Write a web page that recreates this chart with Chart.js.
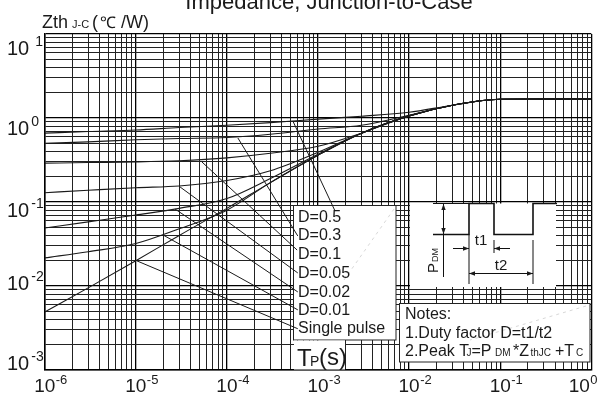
<!DOCTYPE html>
<html>
<head>
<meta charset="utf-8">
<script src="https://cdn.jsdelivr.net/npm/chart.js@4.4.1/dist/chart.umd.min.js"></script>
<style>
  html, body { margin: 0; padding: 0; background: #fff; }
  canvas { display: block; }
</style>
</head>
<body>
<canvas id="chart" width="598" height="397"></canvas>
<script>
// Transient thermal impedance, junction-to-case (log-log)

const tpSeconds = [1e-6, 3e-6, 1e-5, 3e-5, 1e-4, 3e-4, 1e-3, 3e-3, 1e-2, 3e-2, 1e-1, 1];
const zthD05    = [0.66, 0.69, 0.72, 0.77, 0.82, 0.88, 0.97, 1.05, 1.17, 1.42, 1.67, 1.69];
const zthD03    = [0.50, 0.52, 0.55, 0.57, 0.585, 0.64, 0.74, 0.82, 1.08, 1.42, 1.67, 1.69];
const zthD01    = [0.29, 0.295, 0.30, 0.31, 0.335, 0.38, 0.46, 0.66, 1.06, 1.42, 1.67, 1.69];
const zthD005   = [0.129, 0.138, 0.148, 0.155, 0.18, 0.235, 0.39, 0.66, 1.06, 1.42, 1.67, 1.69];
const zthD002   = [0.049, 0.058, 0.07, 0.084, 0.11, 0.19, 0.37, 0.66, 1.06, 1.42, 1.67, 1.69];
const zthD001   = [0.0216, 0.0256, 0.032, 0.048, 0.08, 0.17, 0.36, 0.66, 1.06, 1.42, 1.67, 1.69];
const zthSingle = [0.0049, 0.0095, 0.020, 0.040, 0.084, 0.17, 0.36, 0.66, 1.06, 1.42, 1.67, 1.69];

const curveLabels = ["D=0.5", "D=0.3", "D=0.1", "D=0.05", "D=0.02", "D=0.01", "Single pulse"];

// leader lines: [tp, zth] point on the curve -> point at its label
const leaderD05    = [[5.3e-4, 0.92], [1.54e-3, 0.078]];
const leaderD03    = [[1.32e-4, 0.578], [6.0e-4, 0.0394]];
const leaderD01    = [[5.33e-5, 0.299], [5.9e-4, 0.0268]];
const leaderD005   = [[3.06e-5, 0.151], [6.0e-4, 0.0143]];
const leaderD002   = [[2.69e-5, 0.0826], [6.0e-4, 0.0085]];
const leaderD001   = [[1.99e-5, 0.0405], [6.0e-4, 0.0052]];
const leaderSingle = [[1.03e-5, 0.0199], [6.0e-4, 0.0031]];

const xTickExps = [-6, -5, -4, -3, -2, -1, 0];
const yTickExps = [-3, -2, -1, 0, 1];

const FONT = '"Liberation Sans", Arial, sans-serif';
const NARROW = '"Liberation Sans Narrow", "Liberation Sans", Arial, sans-serif';
const INK = "#1a1a1a";

function isDecade(v) {
  if (!v) return false;
  const l = Math.log10(v);
  return Math.abs(l - Math.round(l)) < 1e-6;
}

function logGridTicks(exps) {
  const out = [];
  for (let i = 0; i < exps.length - 1; i++) {
    for (let m = 1; m < 10; m++) out.push({ value: m * Math.pow(10, exps[i]) });
  }
  out.push({ value: Math.pow(10, exps[exps.length - 1]) });
  return out;
}

function curve(values) {
  return tpSeconds.map((t, i) => ({ x: t, y: values[i] }));
}
function leader(pts) {
  return pts.map((p) => ({ x: p[0], y: p[1] }));
}

const curveSets = [zthD05, zthD03, zthD01, zthD005, zthD002, zthD001, zthSingle];
const leaderSets = [leaderD05, leaderD03, leaderD01, leaderD005, leaderD002, leaderD001, leaderSingle];

const datasets = [];
curveSets.forEach((vals, i) => {
  datasets.push({
    label: curveLabels[i],
    data: curve(vals),
    borderColor: INK,
    borderWidth: 1.1,
    pointRadius: 0,
    cubicInterpolationMode: "monotone",
    fill: false,
  });
});
leaderSets.forEach((pts, i) => {
  datasets.push({
    label: curveLabels[i] + " leader",
    data: leader(pts),
    borderColor: INK,
    borderWidth: 1,
    pointRadius: 0,
    tension: 0,
    fill: false,
  });
});

function arrowHead(ctx, x, y, dir) {
  const L = 6, W = 2.2;
  ctx.beginPath();
  ctx.moveTo(x, y);
  if (dir === "up") { ctx.lineTo(x - W, y + L); ctx.lineTo(x + W, y + L); }
  if (dir === "down") { ctx.lineTo(x - W, y - L); ctx.lineTo(x + W, y - L); }
  if (dir === "left") { ctx.lineTo(x + L, y - W); ctx.lineTo(x + L, y + W); }
  if (dir === "right") { ctx.lineTo(x - L, y - W); ctx.lineTo(x - L, y + W); }
  ctx.closePath();
  ctx.fill();
}

function line(ctx, x1, y1, x2, y2) {
  ctx.beginPath();
  ctx.moveTo(x1, y1);
  ctx.lineTo(x2, y2);
  ctx.stroke();
}

const panels = {
  id: "panels",
  beforeDatasetsDraw(chart) {
    const ctx = chart.ctx;
    ctx.save();
    ctx.fillStyle = "#fff";
    ctx.strokeStyle = "#222";
    ctx.lineWidth = 1;
    // legend panel
    ctx.fillRect(293.5, 205.5, 102.5, 134.5);
    ctx.strokeRect(293.5, 205.5, 102.5, 134.5);
    // axis title patch
    ctx.fillRect(294, 340.5, 51, 29);
    // pulse sketch panel
    ctx.fillRect(410, 203.5, 146, 83.5);
    // notes panel
    ctx.fillRect(399.5, 303.5, 190.5, 58.5);
    ctx.strokeRect(399.5, 303.5, 190.5, 58.5);
    // faint scan marks seen in the panels
    ctx.strokeStyle = "#d8d8d8";
    ctx.setLineDash([3, 4]);
    line(ctx, 394, 209, 344, 280);
    line(ctx, 586, 306, 470, 340);
    ctx.setLineDash([]);
    ctx.restore();
  },
  afterDatasetsDraw(chart) {
    const ctx = chart.ctx;
    ctx.save();
    ctx.fillStyle = INK;
    ctx.textBaseline = "alphabetic";
    ctx.textAlign = "left";

    // curve labels
    ctx.font = "16px " + NARROW;
    const labelBase = [221.5, 240, 259, 278, 296.5, 315, 333];
    curveLabels.forEach((t, i) => ctx.fillText(t, 298, labelBase[i]));

    // x axis title T_P(s)
    ctx.font = "24px " + NARROW;
    ctx.fillText("T", 297, 366);
    ctx.font = "14px " + NARROW;
    ctx.fillText("P", 310, 366);
    ctx.font = "24px " + NARROW;
    ctx.fillText("(s)", 319, 365);

    // notes
    ctx.font = "16px " + NARROW;
    ctx.fillText("Notes:", 405, 318.5);
    ctx.fillText("1.Duty factor D=t1/t2", 405, 337.5);
    const nb = 355.5;
    const big = "16px " + NARROW, small = "10px " + NARROW;
    [["2.Peak T", 405, big], ["J", 466.5, small], ["=P", 471.5, big], ["DM", 495, small],
     ["*Z", 513, big], ["thJC", 530.5, small], ["+T", 555, big], ["C", 576, small]]
      .forEach(([t, x, f]) => { ctx.font = f; ctx.fillText(t, x, nb); });

    // pulse sketch
    ctx.strokeStyle = "#111";
    ctx.lineWidth = 1.6;
    ctx.beginPath();
    ctx.moveTo(433, 234.5);
    ctx.lineTo(469, 234.5);
    ctx.lineTo(469, 203.5);
    ctx.lineTo(494, 203.5);
    ctx.lineTo(494, 234.5);
    ctx.lineTo(533, 234.5);
    ctx.lineTo(533, 203.5);
    ctx.lineTo(557, 203.5);
    ctx.stroke();
    ctx.lineWidth = 1;
    line(ctx, 433, 203.5, 469, 203.5);
    line(ctx, 469, 234.5, 469, 284);
    line(ctx, 494, 240, 494, 253);
    line(ctx, 533, 240, 533, 284);
    // P_DM arrow
    line(ctx, 443.5, 204, 443.5, 277);
    arrowHead(ctx, 443.5, 204, "up");
    arrowHead(ctx, 443.5, 234, "down");
    // t1 arrows
    line(ctx, 453, 248.5, 469, 248.5);
    arrowHead(ctx, 469, 248.5, "right");
    line(ctx, 494, 248.5, 510, 248.5);
    arrowHead(ctx, 494, 248.5, "left");
    // t2 arrow
    line(ctx, 469, 273.5, 533, 273.5);
    arrowHead(ctx, 469, 273.5, "left");
    arrowHead(ctx, 533, 273.5, "right");
    ctx.font = "15px " + NARROW;
    ctx.textAlign = "center";
    ctx.fillText("t1", 481, 245);
    ctx.fillText("t2", 501, 270);
    // rotated P_DM
    ctx.save();
    ctx.translate(438, 273);
    ctx.rotate(-Math.PI / 2);
    ctx.textAlign = "left";
    ctx.font = "15px " + NARROW;
    ctx.fillText("P", 0, 0);
    ctx.font = "9px " + NARROW;
    ctx.fillText("DM", 11, 0);
    ctx.restore();

    ctx.restore();
  },
  afterDraw(chart) {
    const ctx = chart.ctx;
    const xs = chart.scales.x, ys = chart.scales.y;
    ctx.save();
    ctx.fillStyle = INK;
    ctx.textBaseline = "alphabetic";

    // title (partly cut at the top)
    ctx.font = "22px " + FONT;
    ctx.textAlign = "center";
    ctx.fillText("Impedance, Junction-to-Case", 329, 9);

    // y axis title
    ctx.textAlign = "left";
    ctx.font = "18px " + FONT;
    ctx.fillText("Zth", 42, 28);
    ctx.font = "11px " + FONT;
    ctx.fillText("J-C", 72, 28);
    ctx.font = "18px " + FONT;
    ctx.fillText("(", 92, 28);
    ctx.font = "16px " + FONT;
    ctx.fillText("\u2103", 100, 28);
    ctx.font = "18px " + FONT;
    ctx.fillText("/W)", 121, 28);

    // x tick labels 10^n
    xTickExps.forEach((e) => {
      const px = xs.getPixelForValue(Math.pow(10, e));
      ctx.font = "19px " + FONT;
      const w = ctx.measureText("10").width;
      const exp = String(e);
      ctx.font = "13px " + FONT;
      const we = ctx.measureText(exp).width;
      let left = px - w / 2;
      if (left + w + we > 597) left = 597 - w - we;
      ctx.font = "19px " + FONT;
      ctx.fillText("10", left, 392);
      ctx.font = "13px " + FONT;
      ctx.fillText(exp, left + w + 0.5, 384);
    });

    // y tick labels 10^n
    const yShift = { "-3": 0, "-2": 4, "-1": 15, "0": 17, "1": 21 };
    yTickExps.forEach((e) => {
      const py = ys.getPixelForValue(Math.pow(10, e)) + yShift[String(e)];
      ctx.font = "20px " + FONT;
      ctx.fillText("10", 7, py);
      const w = ctx.measureText("10").width;
      ctx.font = "14px " + FONT;
      ctx.fillText((e > 0 ? " " : "") + String(e), 7 + w + 2, py - 9);
    });

    ctx.restore();
  },
};

const gridColor = (c) => (isDecade(c.tick && c.tick.value) ? "#000" : "#222");
const gridWidth = (c) => (isDecade(c.tick && c.tick.value) ? 1.3 : 1);

new Chart(document.getElementById("chart"), {
  type: "line",
  data: { datasets },
  options: {
    responsive: false,
    animation: false,
    layout: { padding: { left: 44.7, right: 6.7, top: 34, bottom: 27 } },
    plugins: { legend: { display: false }, tooltip: { enabled: false }, title: { display: false } },
    scales: {
      x: {
        type: "logarithmic",
        min: 1e-6,
        max: 1,
        afterBuildTicks: (scale) => { scale.ticks = logGridTicks(xTickExps); },
        ticks: { display: false, autoSkip: false },
        grid: { color: gridColor, lineWidth: gridWidth, drawTicks: false },
        border: { display: true, color: "#000", width: 1.5 },
      },
      y: {
        type: "logarithmic",
        min: 1e-3,
        max: 10,
        afterBuildTicks: (scale) => { scale.ticks = logGridTicks(yTickExps); },
        ticks: { display: false, autoSkip: false },
        grid: { color: gridColor, lineWidth: gridWidth, drawTicks: false },
        border: { display: true, color: "#000", width: 1.5 },
      },
    },
  },
  plugins: [panels],
});
</script>
</body>
</html>
